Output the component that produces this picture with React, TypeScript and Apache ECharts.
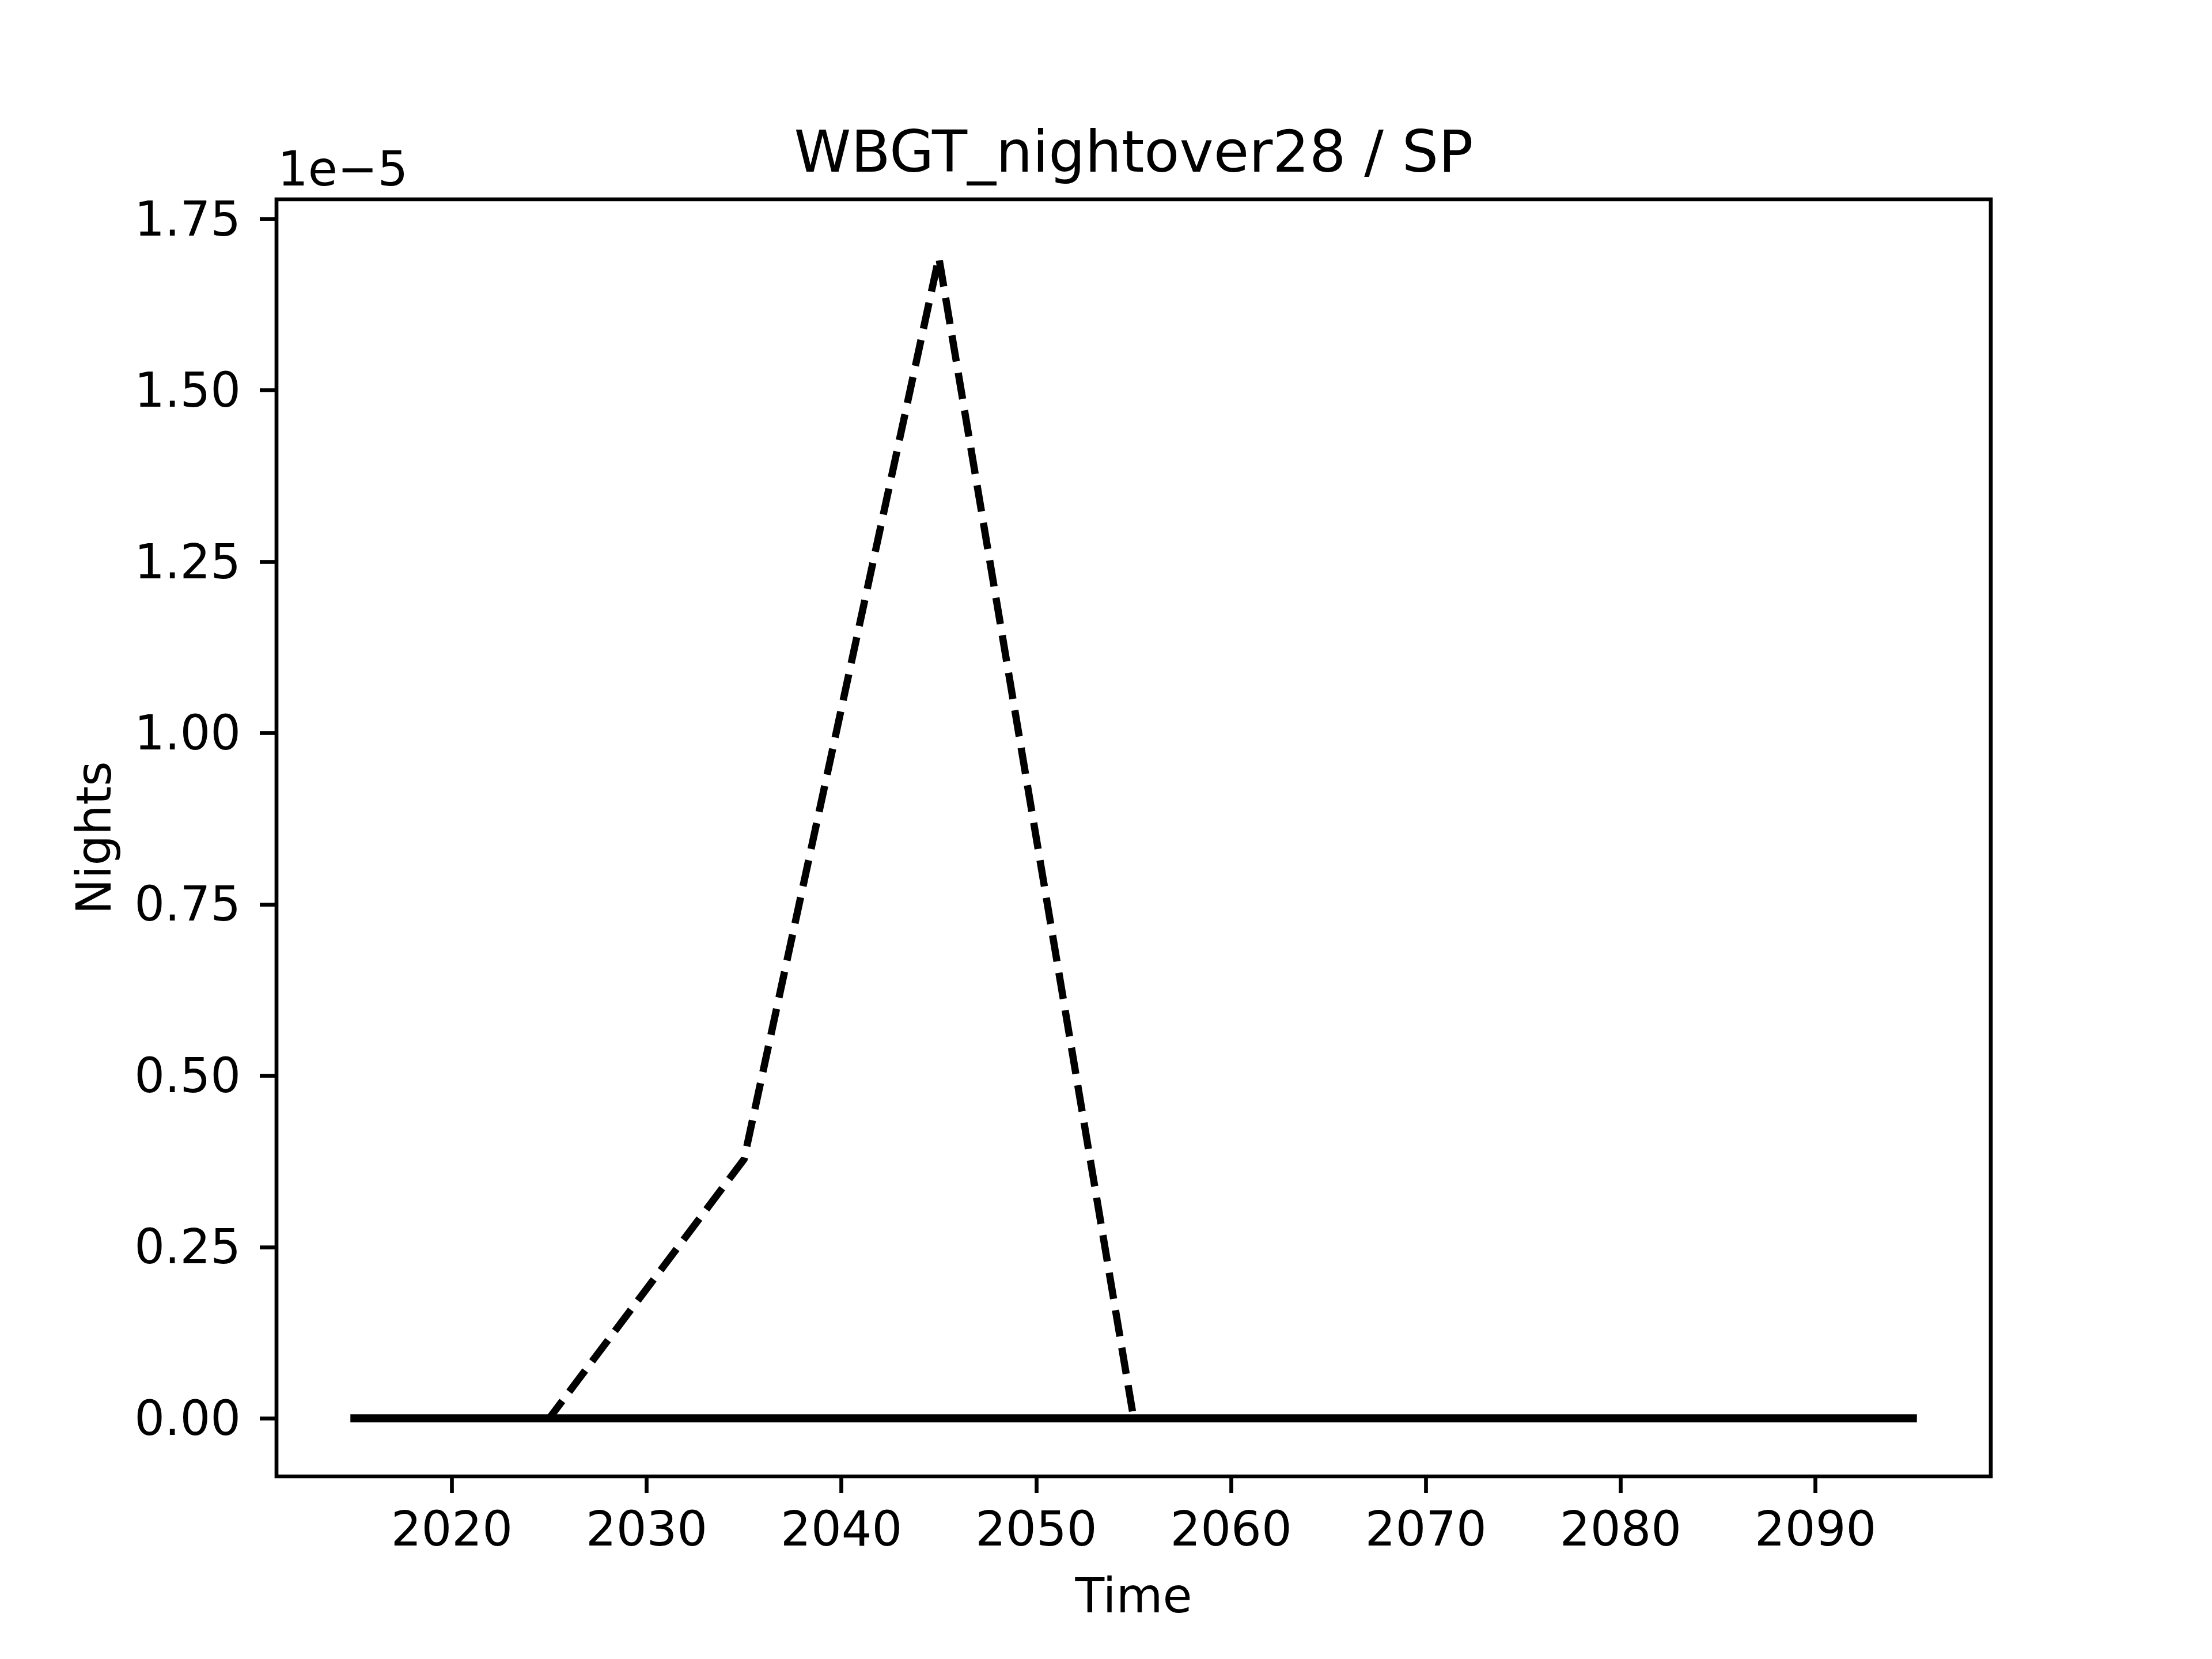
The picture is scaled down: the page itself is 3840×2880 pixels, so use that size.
import React, { useEffect, useRef } from "react";
import * as echarts from "echarts";

const years = [2015, 2025, 2035, 2045, 2055, 2065, 2075, 2085, 2095];
const dashedValues = [0, 0, 3.78e-6, 1.694e-5, 0, 0, 0, 0, 0];
const solidValues = [0, 0, 0, 0, 0, 0, 0, 0, 0];
const xTicks = [2020, 2030, 2040, 2050, 2060, 2070, 2080, 2090];
const yTicks = [0, 0.25e-5, 0.5e-5, 0.75e-5, 1.0e-5, 1.25e-5, 1.5e-5, 1.75e-5];
const titleText = "WBGT_nightover28 / SP";
const xLabel = "Time";
const yLabel = "Nights";
const offsetText = "1e\u22125";

const FONT = "DejaVu Sans";

export default function App() {
  const ref = useRef<HTMLDivElement>(null);
  useEffect(() => {
    document.body.style.margin = "0";
    const chart = echarts.init(ref.current!, null, { renderer: "svg" });
    const left = 480, right = 3456, top = 346, bottom = 2563;
    const dataMax = Math.max(...dashedValues, ...solidValues);
    const dataMin = Math.min(...dashedValues, ...solidValues);
    const yr = dataMax - dataMin;
    const xr = years[years.length - 1] - years[0];
    const line = (vals: number[]) => years.map((y, i) => [y, vals[i]]);
    chart.setOption({
      animation: false,
      backgroundColor: "#ffffff",
      grid: {
        left,
        top,
        width: right - left,
        height: bottom - top,
        show: true,
        borderColor: "#000",
        borderWidth: 6.7,
        backgroundColor: "transparent",
        containLabel: false,
      },
      xAxis: {
        type: "value",
        min: years[0] - 0.05 * xr,
        max: years[years.length - 1] + 0.05 * xr,
        splitLine: { show: false },
        axisLine: { show: false, onZero: false },
        axisTick: {
          show: true,
          inside: false,
          length: 29,
          lineStyle: { color: "#000", width: 6.7 },
          customValues: xTicks,
        },
        axisLabel: {
          show: true,
          margin: 50,
          color: "#000",
          fontFamily: FONT,
          fontSize: 83,
          customValues: xTicks,
          formatter: (v: number) => String(Math.round(v)),
        },
      },
      yAxis: {
        type: "value",
        min: dataMin - 0.05 * yr,
        max: dataMax + 0.05 * yr,
        splitLine: { show: false },
        axisLine: { show: false, onZero: false },
        axisTick: {
          show: true,
          inside: false,
          length: 29,
          lineStyle: { color: "#000", width: 6.7 },
          customValues: yTicks,
        },
        axisLabel: {
          show: true,
          margin: 62,
          color: "#000",
          fontFamily: FONT,
          fontSize: 83,
          customValues: yTicks,
          formatter: (v: number) => (v * 1e5).toFixed(2),
        },
      },
      series: [
        {
          type: "line",
          data: line(dashedValues),
          showSymbol: false,
          symbol: "none",
          lineStyle: { color: "#000", width: 12.5, type: [46, 20], cap: "butt", join: "miter" },
          z: 2,
        },
        {
          type: "line",
          data: line(solidValues),
          showSymbol: false,
          symbol: "none",
          lineStyle: { color: "#000", width: 14, type: "solid", cap: "square" },
          z: 3,
        },
      ],
      graphic: [
        {
          type: "text",
          x: (left + right) / 2,
          y: 263,
          style: {
            text: titleText,
            fill: "#000",
            font: `100px "${FONT}"`,
            textAlign: "center",
            textVerticalAlign: "middle",
          },
        },
        {
          type: "text",
          x: 482,
          y: 293,
          style: {
            text: offsetText,
            fill: "#000",
            font: `83px "${FONT}"`,
            textAlign: "left",
            textVerticalAlign: "middle",
          },
        },
        {
          type: "text",
          x: (left + right) / 2,
          y: 2770,
          style: {
            text: xLabel,
            fill: "#000",
            font: `83px "${FONT}"`,
            textAlign: "center",
            textVerticalAlign: "middle",
          },
        },
        {
          type: "text",
          x: 163,
          y: (top + bottom) / 2,
          rotation: Math.PI / 2,
          style: {
            text: yLabel,
            fill: "#000",
            font: `83px "${FONT}"`,
            textAlign: "center",
            textVerticalAlign: "middle",
          },
        },
      ],
    });
    return () => chart.dispose();
  }, []);
  return <div ref={ref} style={{ width: 3840, height: 2880 }} />;
}
